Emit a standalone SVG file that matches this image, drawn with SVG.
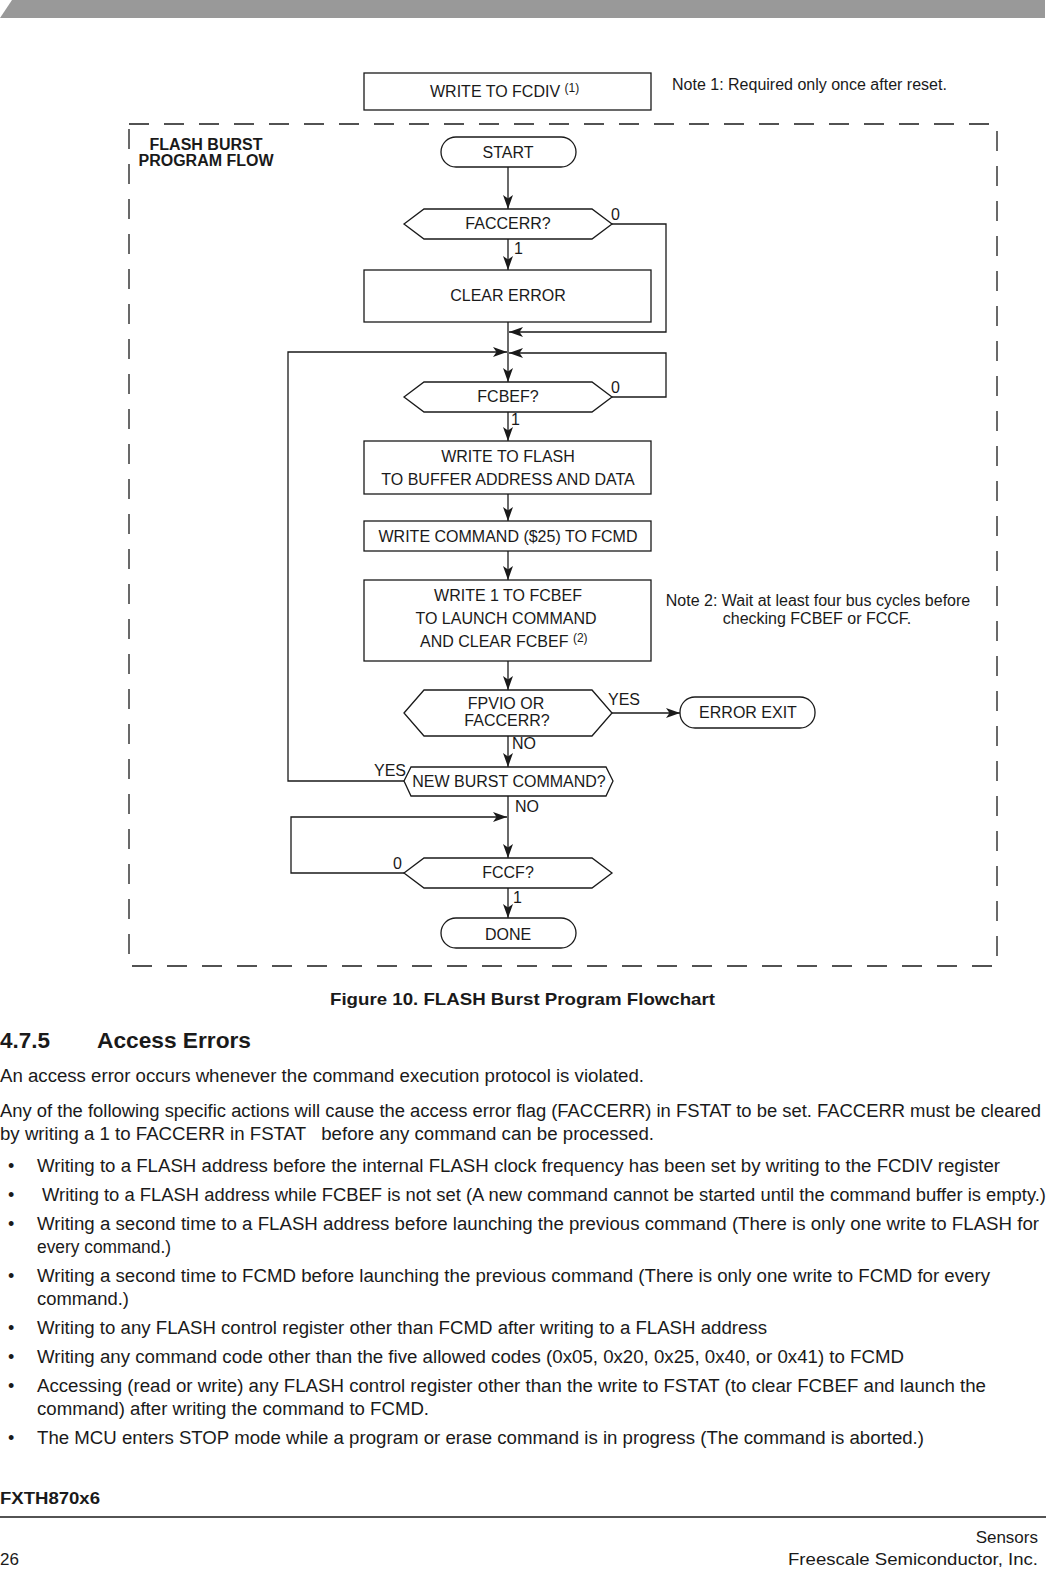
<svg xmlns="http://www.w3.org/2000/svg" width="1050" height="1572" viewBox="0 0 1050 1572">
<style>
.t{font-family:"Liberation Sans",Arial,sans-serif;font-size:16px;fill:#1a1a1a}
.c{text-anchor:middle}
.b{font-weight:bold}
.body{font-family:"Liberation Sans",Arial,sans-serif;font-size:18px;fill:#1a1a1a}
.sh{fill:#fff;stroke:#1a1a1a;stroke-width:1.3}
.ln{fill:none;stroke:#1a1a1a;stroke-width:1.3}
.sup{font-size:12px}
</style>
<defs>
<marker id="ah" markerUnits="userSpaceOnUse" markerWidth="16" markerHeight="12" refX="14" refY="5" orient="auto">
<path d="M0,0 L14,5 L0,10 L3.5,5 z" fill="#1a1a1a"/>
</marker>
</defs>
<rect width="1050" height="1572" fill="#fff"/>
<polygon points="0,18 12,0 1045,0 1045,18" fill="#999"/>

<g id="boundary">
<rect x="129" y="124" width="868" height="842" fill="none" stroke="#1a1a1a" stroke-width="1.3" stroke-dasharray="20,15"/>
<text class="t b c" x="206" y="150">FLASH BURST</text>
<text class="t b c" x="206" y="166">PROGRAM FLOW</text>
</g>

<g id="connectors">
<line class="ln" x1="508" y1="167" x2="508" y2="209" marker-end="url(#ah)"/>
<line class="ln" x1="508" y1="239" x2="508" y2="270" marker-end="url(#ah)"/>
<polyline class="ln" points="612,224 666,224 666,332 509,332" marker-end="url(#ah)"/>
<line class="ln" x1="508" y1="322" x2="508" y2="382" marker-end="url(#ah)"/>
<polyline class="ln" points="612,397 666,397 666,353 509,353" marker-end="url(#ah)"/>
<polyline class="ln" points="404,781 288,781 288,352 507,352" marker-end="url(#ah)"/>
<line class="ln" x1="508" y1="412" x2="508" y2="441" marker-end="url(#ah)"/>
<line class="ln" x1="508" y1="494" x2="508" y2="521" marker-end="url(#ah)"/>
<line class="ln" x1="508" y1="551" x2="508" y2="580" marker-end="url(#ah)"/>
<line class="ln" x1="508" y1="661" x2="508" y2="690" marker-end="url(#ah)"/>
<line class="ln" x1="612" y1="713" x2="680" y2="713" marker-end="url(#ah)"/>
<line class="ln" x1="508" y1="736" x2="508" y2="767" marker-end="url(#ah)"/>
<line class="ln" x1="508" y1="796" x2="508" y2="858" marker-end="url(#ah)"/>
<polyline class="ln" points="404,873 291,873 291,817 507,817" marker-end="url(#ah)"/>
<line class="ln" x1="508" y1="888" x2="508" y2="918" marker-end="url(#ah)"/>
<text class="t" x="611" y="220">0</text>
<text class="t" x="514" y="254">1</text>
<text class="t" x="611" y="393">0</text>
<text class="t" x="511" y="425">1</text>
<text class="t" x="608" y="705">YES</text>
<text class="t" x="512" y="749">NO</text>
<text class="t" x="374" y="776">YES</text>
<text class="t" x="515" y="812">NO</text>
<text class="t" x="393" y="869">0</text>
<text class="t" x="513" y="903">1</text>
</g>

<g id="fcdiv">
<rect class="sh" x="364" y="73" width="287" height="37"/>
<text class="t" x="430" y="97">WRITE TO FCDIV <tspan class="sup" dy="-5">(1)</tspan></text>
</g>
<g id="note1"><text class="t" x="672" y="90">Note 1: Required only once after reset.</text></g>

<g id="start">
<rect class="sh" x="441" y="137" width="135" height="30" rx="15"/>
<text class="t c" x="508" y="158">START</text>
</g>
<g id="faccerr">
<polygon class="sh" points="404,224 424,209 592,209 612,224 592,239 424,239"/>
<text class="t c" x="508" y="229">FACCERR?</text>
</g>
<g id="clearerror">
<rect class="sh" x="364" y="270" width="287" height="52"/>
<text class="t c" x="508" y="301">CLEAR ERROR</text>
</g>
<g id="fcbef">
<polygon class="sh" points="404,397 424,382 592,382 612,397 592,412 424,412"/>
<text class="t c" x="508" y="402">FCBEF?</text>
</g>
<g id="writeflash">
<rect class="sh" x="364" y="441" width="287" height="53"/>
<text class="t c" x="508" y="462">WRITE TO FLASH</text>
<text class="t c" x="508" y="485">TO BUFFER ADDRESS AND DATA</text>
</g>
<g id="writecmd">
<rect class="sh" x="364" y="521" width="287" height="30"/>
<text class="t c" x="508" y="542">WRITE COMMAND ($25) TO FCMD</text>
</g>
<g id="write1">
<rect class="sh" x="364" y="580" width="287" height="81"/>
<text class="t c" x="508" y="601">WRITE 1 TO FCBEF</text>
<text class="t c" x="506" y="624">TO LAUNCH COMMAND</text>
<text class="t" x="420" y="647">AND CLEAR FCBEF <tspan class="sup" dy="-5">(2)</tspan></text>
</g>
<g id="note2">
<text class="t c" x="818" y="606">Note 2: Wait at least four bus cycles before</text>
<text class="t c" x="817" y="624">checking FCBEF or FCCF.</text>
</g>
<g id="fpvio">
<polygon class="sh" points="404,713 424,690 592,690 612,713 592,736 424,736"/>
<text class="t c" x="506" y="709">FPVIO OR</text>
<text class="t c" x="507" y="726">FACCERR?</text>
</g>
<g id="errorexit">
<rect class="sh" x="680" y="697" width="135" height="31" rx="15"/>
<text class="t c" x="748" y="718">ERROR EXIT</text>
</g>
<g id="newburst">
<polygon class="sh" points="404,781 411,767 606,767 613,781 606,796 411,796"/>
<text class="t c" x="509" y="787">NEW BURST COMMAND?</text>
</g>
<g id="fccf">
<polygon class="sh" points="404,873 424,858 592,858 612,873 592,888 424,888"/>
<text class="t c" x="508" y="878">FCCF?</text>
</g>
<g id="done">
<rect class="sh" x="441" y="918" width="135" height="30" rx="15"/>
<text class="t c" x="508" y="940">DONE</text>
</g>

<g id="text">
<text class="body b" x="330" y="1005" textLength="385" lengthAdjust="spacingAndGlyphs" style="font-size:17px">Figure 10. FLASH Burst Program Flowchart</text>
<text class="body b" x="0" y="1048" style="font-size:22px" textLength="50" lengthAdjust="spacingAndGlyphs">4.7.5</text>
<text class="body b" x="97" y="1048" style="font-size:22px" textLength="154" lengthAdjust="spacingAndGlyphs">Access Errors</text>
<text class="body" x="0" y="1082" textLength="644" lengthAdjust="spacingAndGlyphs">An access error occurs whenever the command execution protocol is violated.</text>
<text class="body" x="0" y="1117" textLength="1041" lengthAdjust="spacingAndGlyphs">Any of the following specific actions will cause the access error flag (FACCERR) in FSTAT to be set. FACCERR must be cleared</text>
<text class="body" x="0" y="1140" textLength="654" lengthAdjust="spacingAndGlyphs" xml:space="preserve">by writing a 1 to FACCERR in FSTAT   before any command can be processed.</text>
<text class="body" x="8" y="1172">•</text>
<text class="body" x="37" y="1172" textLength="963" lengthAdjust="spacingAndGlyphs">Writing to a FLASH address before the internal FLASH clock frequency has been set by writing to the FCDIV register</text>
<text class="body" x="8" y="1201">•</text>
<text class="body" x="42" y="1201" textLength="1004" lengthAdjust="spacingAndGlyphs">Writing to a FLASH address while FCBEF is not set (A new command cannot be started until the command buffer is empty.)</text>
<text class="body" x="8" y="1230">•</text>
<text class="body" x="37" y="1230" textLength="1002" lengthAdjust="spacingAndGlyphs">Writing a second time to a FLASH address before launching the previous command (There is only one write to FLASH for</text>
<text class="body" x="37" y="1253" textLength="134" lengthAdjust="spacingAndGlyphs">every command.)</text>
<text class="body" x="8" y="1282">•</text>
<text class="body" x="37" y="1282" textLength="953" lengthAdjust="spacingAndGlyphs">Writing a second time to FCMD before launching the previous command (There is only one write to FCMD for every</text>
<text class="body" x="37" y="1305" textLength="92" lengthAdjust="spacingAndGlyphs">command.)</text>
<text class="body" x="8" y="1334">•</text>
<text class="body" x="37" y="1334" textLength="730" lengthAdjust="spacingAndGlyphs">Writing to any FLASH control register other than FCMD after writing to a FLASH address</text>
<text class="body" x="8" y="1363">•</text>
<text class="body" x="37" y="1363" textLength="867" lengthAdjust="spacingAndGlyphs">Writing any command code other than the five allowed codes (0x05, 0x20, 0x25, 0x40, or 0x41) to FCMD</text>
<text class="body" x="8" y="1392">•</text>
<text class="body" x="37" y="1392" textLength="949" lengthAdjust="spacingAndGlyphs">Accessing (read or write) any FLASH control register other than the write to FSTAT (to clear FCBEF and launch the</text>
<text class="body" x="37" y="1415" textLength="392" lengthAdjust="spacingAndGlyphs">command) after writing the command to FCMD.</text>
<text class="body" x="8" y="1444">•</text>
<text class="body" x="37" y="1444" textLength="887" lengthAdjust="spacingAndGlyphs">The MCU enters STOP mode while a program or erase command is in progress (The command is aborted.)</text>
</g>

<g id="footer">
<text class="body b" x="0" y="1504" style="font-size:16px" textLength="100" lengthAdjust="spacingAndGlyphs">FXTH870x6</text>
<line x1="0" y1="1517" x2="1046" y2="1517" stroke="#1a1a1a" stroke-width="1.3"/>
<text class="body" x="1038" y="1543" text-anchor="end" style="font-size:17px">Sensors</text>
<text class="body" x="0" y="1565" style="font-size:17px">26</text>
<text class="body" x="1038" y="1565" text-anchor="end" style="font-size:17px" textLength="250" lengthAdjust="spacingAndGlyphs">Freescale Semiconductor, Inc.</text>
</g>
</svg>
